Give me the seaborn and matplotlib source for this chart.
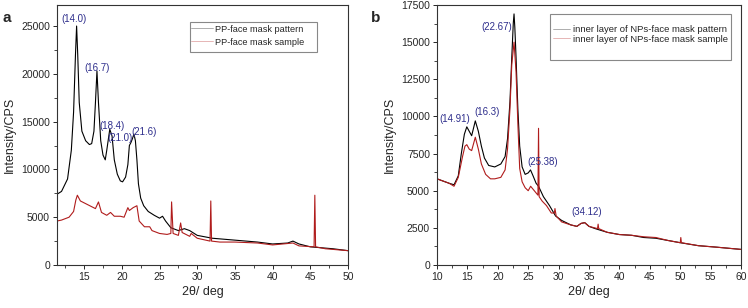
import numpy as np
import pandas as pd
import matplotlib.pyplot as plt
import seaborn as sns
from matplotlib.patches import Rectangle
from matplotlib.ticker import AutoMinorLocator

# panel a: PP face mask (2theta, intensity)
a_pat_x = [11.4, 12, 12.8, 13.3, 13.6, 13.85, 14.0, 14.15, 14.35, 14.7, 15.2, 15.7, 16.0, 16.3, 16.5,
           16.7, 16.9, 17.2, 17.5, 17.8, 18.0, 18.4, 18.7, 19.0, 19.4, 19.8, 20.1, 20.5, 20.8, 21.0,
           21.2, 21.4, 21.6, 21.8, 22.0, 22.2, 22.5, 22.9, 23.5, 24.3, 25.0, 25.4, 25.8, 26.5, 27.5,
           28.3, 29, 30, 32, 35, 38, 40, 42, 42.7, 43.5, 45, 48, 50]
a_pat_y = [7400, 7700, 9000, 12000, 16000, 22000, 25000, 22000, 17000, 14000, 13000, 12600, 12700,
           14000, 17000, 20300, 17000, 13000, 11500, 11000, 12000, 14200, 13500, 11000, 9500, 8800,
           8700, 9200, 10500, 12500, 12800, 13200, 13700, 13000, 11000, 8500, 7000, 6200, 5600, 5200,
           4900, 5100, 4600, 3900, 3600, 3800, 3600, 3100, 2800, 2600, 2400, 2200, 2300, 2500, 2200,
           1900, 1700, 1500]
a_smp_x = [11.4, 12, 13, 13.6, 13.9, 14.1, 14.5, 15.5, 16.5, 16.9, 17.3, 18, 18.5, 19, 19.8, 20.3,
           20.8, 21, 21.5, 22.0, 22.3, 23, 23.7, 24, 25, 26, 26.5, 26.6, 26.8, 27.5, 27.8, 28, 29,
           29.2, 30, 31.7, 31.8, 31.9, 33, 35, 38, 40, 42.7, 43.5, 45.5, 45.6, 45.7, 47, 50]
a_smp_y = [4600, 4700, 5000, 5600, 6800, 7300, 6700, 6300, 5900, 6600, 5500, 5200, 5500, 5100, 5100,
           5000, 6000, 5700, 6000, 6200, 4600, 4000, 4000, 3600, 3300, 3200, 3300, 6600, 3300, 3100,
           4400, 3400, 3000, 3300, 2800, 2500, 6700, 2500, 2400, 2400, 2300, 2100, 2300, 2000, 1900,
           7300, 1900, 1700, 1500]
a_peaks = ['(14.0)', '(16.7)', '(18.4)', '(21.0)', '(21.6)']

# panel b: inner layer of NPs face mask
b_pat_x = [10, 12, 12.8, 13.5, 14, 14.5, 14.9, 15.3, 15.7, 16.3, 16.8, 17.3, 17.8, 18.5, 19.5, 20.5,
           21.2, 21.6, 22.0, 22.3, 22.55, 22.67, 22.8, 23.0, 23.3, 23.6, 24.0, 24.5, 25.0, 25.38,
           25.8, 26.3, 26.7, 27.5, 28.5, 29.5, 30.5, 32, 33, 33.7, 34.3, 35, 36, 38, 40, 42, 44, 46,
           48, 50, 53, 56, 60]
b_pat_y = [5800, 5500, 5400, 6000, 7500, 8800, 9300, 9000, 8700, 9700, 9000, 8000, 7200, 6700, 6600,
           6800, 7300, 8500, 11000, 14000, 16300, 16900, 16000, 14000, 10500, 8000, 6600, 6100, 6200,
           6400, 6000, 5500, 5300, 4600, 4000, 3300, 3000, 2700, 2600, 2800, 2850, 2600, 2450, 2200,
           2050, 2000, 1850, 1800, 1650, 1500, 1300, 1200, 1050]
b_smp_x = [10, 12, 12.8, 13.5, 14.2, 14.6, 14.9, 15.3, 15.7, 16.3, 16.8, 17.3, 18, 18.8, 19.5, 20.5,
           21.2, 21.6, 22.0, 22.3, 22.67, 23.0, 23.3, 23.6, 24, 24.5, 25.0, 25.4, 26.0, 26.6, 26.7,
           26.8, 27.3, 28, 28.8, 29.3, 29.4, 29.6, 30.5, 32, 33, 33.7, 34.3, 35, 36.4, 36.5, 36.6, 38,
           40, 42, 44, 46, 48, 50.0, 50.1, 50.2, 53, 56, 60]
b_smp_y = [5800, 5500, 5300, 5900, 7300, 8000, 8100, 7800, 7700, 8600, 7800, 6800, 6100, 5800, 5800,
           5900, 6400, 7800, 10500, 13500, 15000, 13000, 9500, 6500, 5600, 5200, 5000, 5300, 5000,
           4700, 9200, 4600, 4300, 4000, 3500, 3500, 3800, 3300, 2900, 2700, 2600, 2800, 2850, 2600,
           2450, 2750, 2450, 2200, 2050, 2000, 1900, 1850, 1650, 1500, 1850, 1500, 1300, 1200, 1050]
b_peaks = ['(14.91)', '(16.3)', '(22.67)', '(25.38)', '(34.12)']

sns.set_theme(style='ticks')
plt.rcParams['font.family'] = ['Liberation Sans', 'DejaVu Sans']
plt.rcParams['xtick.labelsize'] = 7.5
plt.rcParams['ytick.labelsize'] = 7.5
blue = '#2e2e8c'
red = '#b01c1c'

fig = plt.figure(figsize=(7.48, 3.08), dpi=100)
ax1 = fig.add_axes([57 / 748, 43 / 308, 291 / 748, 260 / 308])
ax2 = fig.add_axes([437 / 748, 43 / 308, 304 / 748, 260 / 308])

sns.lineplot(x=a_pat_x, y=a_pat_y, ax=ax1, color='black', lw=0.8, label='PP-face mask pattern')
sns.lineplot(x=a_smp_x, y=a_smp_y, ax=ax1, color=red, lw=0.8, label='PP-face mask sample')
sns.lineplot(x=b_pat_x, y=b_pat_y, ax=ax2, color='black', lw=0.8,
             label='inner layer of NPs-face mask pattern')
sns.lineplot(x=b_smp_x, y=b_smp_y, ax=ax2, color=red, lw=0.8,
             label='inner layer of NPs-face mask sample')

ax1.set_xlim(11.4, 50)
ax1.set_ylim(0, 27200)
ax1.set_xticks(np.arange(15, 51, 5))
ax1.set_yticks(np.arange(0, 25001, 5000))
ax2.set_xlim(10, 60)
ax2.set_ylim(0, 17500)
ax2.set_xticks(np.arange(10, 61, 5))
ax2.set_yticks(np.arange(0, 17501, 2500))

for ax in (ax1, ax2):
    ax.xaxis.set_minor_locator(AutoMinorLocator(2))
    ax.yaxis.set_minor_locator(AutoMinorLocator(2))
    ax.tick_params(which='major', length=3, width=0.7, pad=2)
    ax.tick_params(which='minor', length=2, width=0.6)
    for s in ax.spines.values():
        s.set_linewidth(0.8)
        s.set_color('#333333')
    ax.set_xlabel('2θ/ deg', fontsize=9, labelpad=3)
    ax.set_ylabel('Intensity/CPS', fontsize=9)

# peak labels
a_lab_x = [13.7, 16.7, 18.7, 19.7, 22.9]
a_lab_y = [25700, 20600, 14500, 13300, 13900]
for t, xx, yy in zip(a_peaks, a_lab_x, a_lab_y):
    ax1.text(xx, yy, t, color=blue, fontsize=7, ha='center', va='center')

b_lab_x = [13.0, 18.2, 19.9, 27.4, 34.7]
b_lab_y = [9830, 10300, 16000, 6900, 3560]
for t, xx, yy in zip(b_peaks, b_lab_x, b_lab_y):
    ax2.text(xx, yy, t, color=blue, fontsize=7, ha='center', va='center')

# legends: frameless legend + separate box, like the original
ax1.add_patch(Rectangle((0.457, 0.819), 0.436, 0.116, transform=ax1.transAxes, fill=False,
                        edgecolor='#888888', lw=0.8, zorder=5))
ax2.add_patch(Rectangle((0.372, 0.788), 0.595, 0.177, transform=ax2.transAxes, fill=False,
                        edgecolor='#888888', lw=0.8, zorder=5))
leg1 = ax1.legend(loc='upper left', bbox_to_anchor=(0.462, 0.925), fontsize=6.6, frameon=False,
                  handlelength=2.3, handletextpad=0.3, borderpad=0, labelspacing=0.45,
                  borderaxespad=0)
leg2 = ax2.legend(loc='upper left', bbox_to_anchor=(0.38, 0.922), fontsize=6.8, frameon=False,
                  handlelength=1.9, handletextpad=0.3, borderpad=0, labelspacing=0.05,
                  borderaxespad=0)
for leg in (leg1, leg2):
    for l in leg.get_lines():
        l.set_linewidth(0.5)
        l.set_alpha(0.45)

fig.text(0.004, 0.93, 'a', fontsize=11, fontweight='bold')
fig.text(0.496, 0.93, 'b', fontsize=11, fontweight='bold')

plt.savefig('out.png', dpi=100)
